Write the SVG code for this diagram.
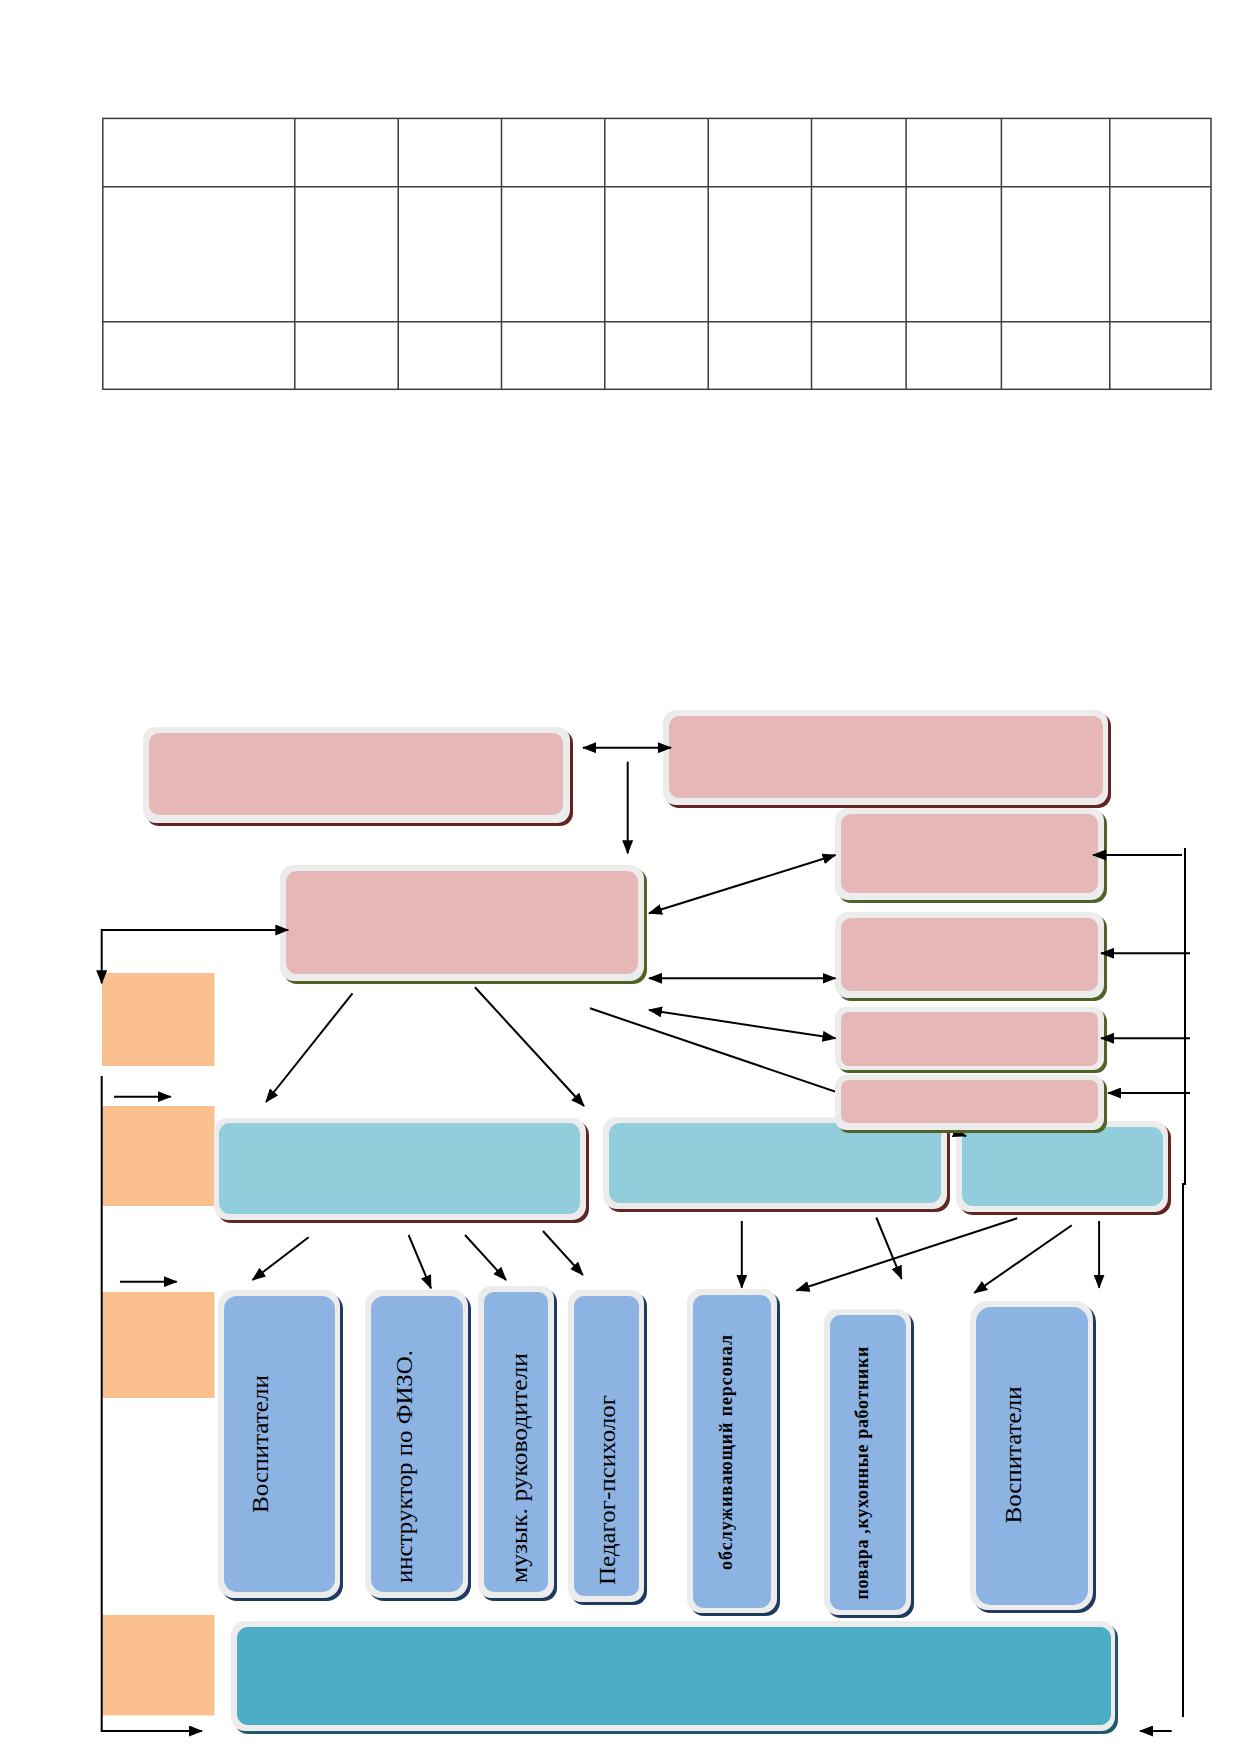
<svg xmlns="http://www.w3.org/2000/svg" width="1239" height="1752" viewBox="0 0 1239 1752">
<style>
.bd{fill:#ececec}
.pk{fill:#e5b8b7}
.lb{fill:#92cddc}
.bl{fill:#8db3e2}
.tl{fill:#4bacc6}
.sr{fill:#632523}
.sg{fill:#4f6228}
.sn{fill:#1f3a5f}
.st{fill:#215968}
.or{fill:#fac090}
.ln{stroke:#000;stroke-width:2;fill:none}
.tx{font-family:"Liberation Serif","Times New Roman",serif;font-size:24px;fill:#000}
.txb{font-family:"Liberation Serif","Times New Roman",serif;font-size:18px;font-weight:bold;fill:#000}
</style>
<defs>
<marker id="ah" viewBox="0 0 14 11" refX="13" refY="5.5" markerWidth="14" markerHeight="11" markerUnits="userSpaceOnUse" orient="auto-start-reverse">
<path d="M0,0 L14,5.5 L0,11 z" fill="#000"/>
</marker>
</defs>
<rect width="1239" height="1752" fill="#fff"/>

<g id="table" stroke="#3c3c3c" stroke-width="1.5" fill="none">
<rect x="102.8" y="118.4" width="1108.2" height="270.9"/>
<line x1="102.8" y1="186.7" x2="1211" y2="186.7"/>
<line x1="102.8" y1="321.7" x2="1211" y2="321.7"/>
<line x1="294.8" y1="118.4" x2="294.8" y2="389.3"/>
<line x1="398.2" y1="118.4" x2="398.2" y2="389.3"/>
<line x1="501.5" y1="118.4" x2="501.5" y2="389.3"/>
<line x1="604.8" y1="118.4" x2="604.8" y2="389.3"/>
<line x1="708.2" y1="118.4" x2="708.2" y2="389.3"/>
<line x1="811.5" y1="118.4" x2="811.5" y2="389.3"/>
<line x1="906.1" y1="118.4" x2="906.1" y2="389.3"/>
<line x1="1001.4" y1="118.4" x2="1001.4" y2="389.3"/>
<line x1="1109.8" y1="118.4" x2="1109.8" y2="389.3"/>
</g>

<g id="levels">
<rect class="or" x="102" y="973" width="112.5" height="93"/>
<rect class="or" x="102" y="1106" width="112.5" height="100"/>
<rect class="or" x="102" y="1292" width="112.5" height="106"/>
<rect class="or" x="102" y="1615" width="112.5" height="100.5"/>
</g>

<g id="p1">
<rect class="sr" x="146" y="730" width="427" height="96" rx="13"/>
<rect class="bd" x="143" y="727" width="427" height="96" rx="13"/>
<rect class="pk" x="149" y="733" width="414" height="82" rx="10"/>
</g>
<g id="p2">
<rect class="sr" x="666" y="713" width="445" height="95" rx="13"/>
<rect class="bd" x="663" y="710" width="445" height="95" rx="13"/>
<rect class="pk" x="669" y="716" width="434" height="82" rx="10"/>
</g>
<g id="r1">
<rect class="sg" x="838" y="811" width="269" height="92" rx="13"/>
<rect class="bd" x="835" y="808" width="269" height="92" rx="13"/>
<rect class="pk" x="841" y="814" width="257" height="79" rx="10"/>
</g>
<g id="r2">
<rect class="sg" x="838" y="915" width="269" height="86" rx="13"/>
<rect class="bd" x="835" y="912" width="269" height="86" rx="13"/>
<rect class="pk" x="841" y="918" width="257" height="73" rx="10"/>
</g>
<g id="r3">
<rect class="sg" x="838" y="1010" width="269" height="63" rx="11"/>
<rect class="bd" x="835" y="1007" width="269" height="63" rx="11"/>
<rect class="pk" x="841" y="1012" width="257" height="54" rx="8"/>
</g>
<g id="m">
<rect class="sg" x="283" y="868" width="364" height="116" rx="14"/>
<rect class="bd" x="280" y="865" width="364" height="116" rx="14"/>
<rect class="pk" x="286" y="871" width="352" height="103" rx="11"/>
</g>
<g id="b1">
<rect class="sr" x="217" y="1121" width="372" height="102" rx="14"/>
<rect class="bd" x="214" y="1118" width="372" height="102" rx="14"/>
<rect class="lb" x="219" y="1123" width="361" height="91" rx="11"/>
</g>
<g id="b2">
<rect class="sr" x="606" y="1120" width="344" height="92" rx="14"/>
<rect class="bd" x="603" y="1117" width="344" height="92" rx="14"/>
<rect class="lb" x="609" y="1123" width="332" height="80" rx="11"/>
</g>
<g id="b3">
<rect class="sr" x="959" y="1124" width="212" height="91" rx="14"/>
<rect class="bd" x="956" y="1121" width="212" height="91" rx="14"/>
<rect class="lb" x="962" y="1127" width="201" height="79" rx="11"/>
</g>

<g id="c1">
<rect class="sn" x="221" y="1293" width="122" height="308" rx="16"/>
<rect class="bd" x="218" y="1290" width="122" height="308" rx="16"/>
<rect class="bl" x="224" y="1296" width="111" height="296" rx="13"/>
<text class="tx" transform="translate(268,1444) rotate(-90)" text-anchor="middle" textLength="138" lengthAdjust="spacingAndGlyphs">Воспитатели</text>
</g>
<g id="c2">
<rect class="sn" x="368" y="1293" width="103" height="308" rx="16"/>
<rect class="bd" x="365" y="1290" width="103" height="308" rx="16"/>
<rect class="bl" x="371" y="1296" width="92" height="296" rx="13"/>
<text class="tx" transform="translate(411.5,1466.5) rotate(-90)" text-anchor="middle" textLength="233" lengthAdjust="spacingAndGlyphs">инструктор по ФИЗО.</text>
</g>
<g id="c3">
<rect class="sn" x="481" y="1289" width="76" height="312" rx="13"/>
<rect class="bd" x="478" y="1286" width="76" height="312" rx="13"/>
<rect class="bl" x="484" y="1292" width="64" height="300" rx="10"/>
<text class="tx" transform="translate(527,1468) rotate(-90)" text-anchor="middle" textLength="230" lengthAdjust="spacingAndGlyphs">музык. руководители</text>
</g>
<g id="c4">
<rect class="sn" x="571" y="1293" width="76" height="312" rx="13"/>
<rect class="bd" x="568" y="1290" width="76" height="312" rx="13"/>
<rect class="bl" x="574" y="1296" width="65" height="300" rx="10"/>
<text class="tx" transform="translate(614.5,1490) rotate(-90)" text-anchor="middle" textLength="190" lengthAdjust="spacingAndGlyphs">Педагог-психолог</text>
</g>
<g id="c5">
<rect class="sn" x="690" y="1292" width="90" height="324" rx="14"/>
<rect class="bd" x="687" y="1289" width="90" height="324" rx="14"/>
<rect class="bl" x="693" y="1295" width="78" height="313" rx="11"/>
<text class="txb" transform="translate(732,1452.5) rotate(-90)" text-anchor="middle" textLength="235" lengthAdjust="spacing">обслуживающий персонал</text>
</g>
<g id="c6">
<rect class="sn" x="827" y="1312" width="87" height="306" rx="14"/>
<rect class="bd" x="824" y="1309" width="87" height="306" rx="14"/>
<rect class="bl" x="830" y="1315" width="76" height="295" rx="11"/>
<text class="txb" transform="translate(868,1473) rotate(-90)" text-anchor="middle" textLength="253" lengthAdjust="spacing">повара ,кухонные работники</text>
</g>
<g id="c7">
<rect class="sn" x="973" y="1304" width="123" height="309" rx="18"/>
<rect class="bd" x="970" y="1301" width="123" height="309" rx="18"/>
<rect class="bl" x="976" y="1307" width="112" height="298" rx="15"/>
<text class="tx" transform="translate(1020.5,1455) rotate(-90)" text-anchor="middle" textLength="137" lengthAdjust="spacingAndGlyphs">Воспитатели</text>
</g>
<g id="d">
<rect class="st" x="234" y="1624" width="884" height="110" rx="14"/>
<rect class="bd" x="231" y="1621" width="884" height="110" rx="14"/>
<rect class="tl" x="237" y="1627" width="874" height="98" rx="11"/>
</g>

<g id="connectors" class="ln">
<line x1="583" y1="747.7" x2="671" y2="747.7" marker-start="url(#ah)" marker-end="url(#ah)"/>
<line x1="627.7" y1="761.7" x2="627.7" y2="853.3" marker-end="url(#ah)"/>
<line x1="649" y1="913.3" x2="835.5" y2="855" marker-start="url(#ah)" marker-end="url(#ah)"/>
<line x1="649" y1="978.3" x2="835.5" y2="978.3" marker-start="url(#ah)" marker-end="url(#ah)"/>
<line x1="649" y1="1010" x2="835.5" y2="1038.3" marker-start="url(#ah)" marker-end="url(#ah)"/>
<line x1="590" y1="1008.3" x2="966" y2="1136" marker-end="url(#ah)"/>
<line x1="1185" y1="848" x2="1185" y2="1185"/>
<line x1="1183" y1="1183" x2="1183" y2="1717"/>
<line x1="1182" y1="855" x2="1093" y2="855" marker-end="url(#ah)"/>
<line x1="1190" y1="953.3" x2="1101" y2="953.3" marker-end="url(#ah)"/>
<line x1="1190" y1="1038.3" x2="1101" y2="1038.3" marker-end="url(#ah)"/>
<line x1="1190" y1="1093" x2="1108" y2="1093" marker-end="url(#ah)"/>
<line x1="1171.7" y1="1731" x2="1140" y2="1731" marker-end="url(#ah)"/>
<polyline points="288.3,930 101.7,930 101.7,983.3" marker-start="url(#ah)" marker-end="url(#ah)"/>
<polyline points="101.7,1076 101.7,1731 202,1731" marker-end="url(#ah)"/>
<line x1="114" y1="1096.7" x2="170.7" y2="1096.7" marker-end="url(#ah)"/>
<line x1="120" y1="1281.7" x2="176.7" y2="1281.7" marker-end="url(#ah)"/>
<line x1="352.5" y1="993.3" x2="266" y2="1102" marker-end="url(#ah)"/>
<line x1="475" y1="987.3" x2="584" y2="1106" marker-end="url(#ah)"/>
<line x1="308.6" y1="1237.3" x2="252.5" y2="1280" marker-end="url(#ah)"/>
<line x1="408.6" y1="1235" x2="431" y2="1288.3" marker-end="url(#ah)"/>
<line x1="465" y1="1235" x2="506" y2="1280" marker-end="url(#ah)"/>
<line x1="542.9" y1="1231" x2="582.9" y2="1275" marker-end="url(#ah)"/>
<line x1="741.8" y1="1221" x2="741.8" y2="1287.7" marker-end="url(#ah)"/>
<line x1="876.3" y1="1217.5" x2="901.6" y2="1278.9" marker-end="url(#ah)"/>
<line x1="1017.2" y1="1218.2" x2="796.5" y2="1290.5" marker-end="url(#ah)"/>
<line x1="1071.8" y1="1225.2" x2="974.3" y2="1292.9" marker-end="url(#ah)"/>
<line x1="1099.1" y1="1221" x2="1099.1" y2="1287.7" marker-end="url(#ah)"/>
</g>

<g id="r4">
<rect class="sg" x="838" y="1078" width="269" height="55" rx="11"/>
<rect class="bd" x="835" y="1075" width="269" height="55" rx="11"/>
<rect class="pk" x="841" y="1080" width="257" height="43" rx="8"/>
</g>
</svg>
